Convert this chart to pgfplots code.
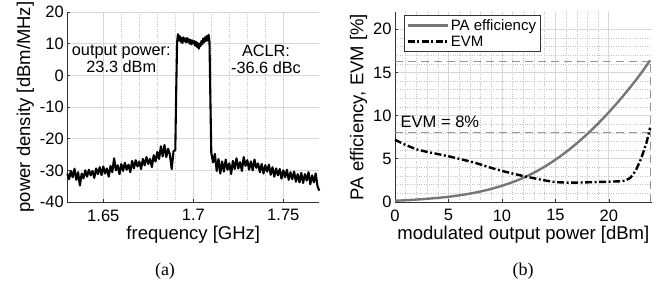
\documentclass[border=0pt]{standalone}
\usepackage{fontspec}
\setmainfont{Liberation Sans}
\newfontfamily\capfont{Liberation Serif}
\usepackage{pgfplots}
\pgfplotsset{compat=1.18}
\definecolor{pagray}{RGB}{118,118,118}
\definecolor{guide}{RGB}{150,150,150}
\definecolor{majgrid}{RGB}{215,215,215}
\definecolor{mingrid}{RGB}{195,195,195}
\pgfplotsset{
  mystyle/.style={
    scale only axis,
    axis x line*=bottom, axis y line*=left,
    axis line style={black!80, line width=0.8pt},
    tick align=inside,
    major tick length=3pt, minor tick length=0pt,
    tick style={black!80, line width=0.7pt},
    grid=both,
    major grid style={majgrid, line width=0.9pt},
    minor grid style={mingrid, dotted, line width=0.5pt},
    /pgf/number format/assume math mode=true,
    tick label style={font=\fontsize{16.5}{18}\selectfont},
    label style={font=\fontsize{18.5}{20}\selectfont},
    clip=false,
  }
}
\begin{document}
\begin{tikzpicture}[x=1pt,y=1pt]
\path[use as bounding box] (0,0) rectangle (656,282);
\begin{axis}[mystyle,
  at={(67.3pt,80pt)}, anchor=south west,
  width=252pt, height=190pt,
  xmin=1.63, xmax=1.77, ymin=-40, ymax=20,
  xtick={1.65,1.7,1.75}, ytick={-40,-30,...,20},
  minor x tick num=4,
  xlabel={frequency [GHz]},
  ylabel={power density [dBm/MHz]},
  xticklabel style={yshift=-4pt},
  xlabel style={yshift=2pt},
  ylabel style={yshift=-1pt},
]
\addplot[black, line width=2.1pt, line join=round] coordinates {
(1.630,-31.0) (1.631,-32.8) (1.632,-30.2) (1.633,-32.2) (1.634,-29.5) (1.635,-33.0)
(1.636,-30.6) (1.637,-34.8) (1.638,-31.0) (1.639,-32.5) (1.640,-30.0) (1.641,-32.0)
(1.642,-29.8) (1.643,-31.6) (1.644,-30.2) (1.645,-32.4) (1.646,-29.4) (1.647,-31.2)
(1.648,-29.0) (1.649,-31.5) (1.650,-28.8) (1.651,-31.0) (1.652,-29.4) (1.653,-32.0)
(1.654,-28.6) (1.655,-30.6) (1.656,-26.2) (1.657,-30.0) (1.658,-28.4) (1.659,-31.2)
(1.660,-28.0) (1.661,-30.2) (1.662,-27.6) (1.663,-29.8) (1.664,-28.2) (1.665,-30.6)
(1.666,-27.0) (1.667,-29.4) (1.668,-26.8) (1.669,-28.8) (1.670,-27.2) (1.671,-29.6)
(1.672,-26.4) (1.673,-28.4) (1.674,-25.8) (1.675,-28.0) (1.676,-26.4) (1.677,-29.0)
(1.678,-25.2) (1.679,-27.2) (1.680,-24.2) (1.681,-26.4) (1.682,-22.4) (1.683,-25.6)
(1.684,-22.0) (1.685,-25.8) (1.686,-23.2) (1.687,-25.0) (1.688,-29.6) (1.689,-24.0)
(1.690,-23.6) (1.6905,-5.0) (1.691,10.5)
(1.6915,13.0) (1.692,11.0) (1.6925,12.4) (1.693,10.6) (1.6935,11.8) (1.694,10.2)
(1.6945,12.0) (1.695,10.8) (1.6955,11.6) (1.696,10.4) (1.6965,11.8) (1.697,10.6)
(1.6975,11.4) (1.698,10.0) (1.6985,11.2) (1.699,9.8) (1.6995,11.0) (1.700,10.2)
(1.7005,10.8) (1.701,9.4) (1.7015,10.6) (1.702,9.0) (1.7025,10.2) (1.703,8.4)
(1.7035,10.0) (1.704,9.2) (1.7045,10.8) (1.705,9.8) (1.7055,11.6) (1.706,10.4)
(1.7065,12.0) (1.707,10.8) (1.7075,12.4) (1.708,11.0) (1.7085,12.8) (1.709,10.5)
(1.7095,-8.0) (1.710,-24.5)
(1.711,-27.5) (1.712,-24.8) (1.713,-30.2) (1.714,-26.4) (1.715,-31.0) (1.716,-27.2)
(1.717,-30.4) (1.718,-26.6) (1.719,-29.8) (1.720,-27.8) (1.721,-31.2) (1.722,-27.0)
(1.723,-29.6) (1.724,-26.2) (1.725,-29.4) (1.726,-27.4) (1.727,-30.2) (1.728,-25.8)
(1.729,-28.6) (1.730,-26.8) (1.731,-29.8) (1.732,-27.2) (1.733,-30.0) (1.734,-26.6)
(1.735,-29.2) (1.736,-27.8) (1.737,-30.6) (1.738,-28.0) (1.739,-31.0) (1.740,-28.4)
(1.741,-30.4) (1.742,-28.2) (1.743,-31.4) (1.744,-29.0) (1.745,-32.0) (1.746,-29.4)
(1.747,-31.6) (1.748,-29.6) (1.749,-32.6) (1.750,-30.0) (1.751,-32.2) (1.752,-29.8)
(1.753,-33.0) (1.754,-30.6) (1.755,-32.8) (1.756,-30.4) (1.757,-33.6) (1.758,-31.2)
(1.759,-33.8) (1.760,-30.8) (1.761,-34.0) (1.762,-31.2) (1.763,-33.2) (1.764,-30.6)
(1.765,-34.4) (1.766,-31.6) (1.767,-33.8) (1.768,-31.0) (1.769,-35.0) (1.770,-36.4)
};
\node[align=center, font=\fontsize{16.3}{16.8}\selectfont] at (axis cs:1.6600,5.1) {output power:\\23.3 dBm};
\node[align=center, font=\fontsize{16.3}{16.8}\selectfont] at (axis cs:1.7404,5.1) {ACLR:\\-36.6 dBc};
\end{axis}

\begin{axis}[mystyle,
  at={(395pt,80pt)}, anchor=south west,
  width=256.7pt, height=190pt,
  xmin=0, xmax=24, ymin=0, ymax=22,
  xtick={0,5,...,20}, ytick={0,5,...,20},
  minor x tick num=4, minor y tick num=4,
  xlabel={modulated output power [dBm]},
  ylabel={PA efficiency, EVM [\%]},
  xticklabel style={yshift=-4pt},
  xlabel style={yshift=2pt},
  ylabel style={yshift=-1pt},
  legend cell align=left,
  legend style={at={(0,1)}, anchor=north west, xshift=9pt, yshift=-3pt,
    draw=black!80, line width=0.7pt, fill=white,
    font=\fontsize{15}{17}\selectfont, inner sep=2pt, row sep=0pt},
  legend image code/.code={\draw[#1] (0pt,0pt) -- (40pt,0pt);},
]
\addplot[guide, line width=1pt, dash pattern=on 8pt off 5pt, forget plot] coordinates {(0,16.3) (24,16.3)};
\addplot[guide, line width=1pt, dash pattern=on 8pt off 5pt, forget plot] coordinates {(0,8) (24,8)};
\addplot[guide, line width=1pt, dash pattern=on 8pt off 5pt, forget plot] coordinates {(23.85,0) (23.85,16.3)};
\addplot[pagray, line width=2.4pt, smooth] coordinates {
(0,0.15) (1,0.2) (2,0.28) (3,0.37) (4,0.48) (5,0.6) (6,0.77) (7,0.97) (8,1.22)
(9,1.52) (10,1.88) (11,2.3) (12,2.8) (13,3.4) (14,4.1) (15,4.9) (16,5.8) (17,6.8)
(18,7.9) (19,9.1) (20,10.4) (21,11.8) (22,13.3) (23,14.9) (23.85,16.4)
};
\addlegendentry{PA efficiency}
\addplot[black, line width=2.4pt, dash pattern=on 7pt off 2.5pt on 2pt off 2.5pt] coordinates {
(0,7.2) (1,6.6) (2,6.1) (3,5.8) (4,5.55) (5,5.3) (6,5.0) (7,4.7) (8,4.35) (9,3.95)
(10,3.6) (11,3.3) (12,3.0) (13,2.75) (14,2.5) (15,2.3) (16,2.25) (17,2.25) (18,2.28)
(19,2.32) (20,2.35) (21,2.4) (21.5,2.45) (22,2.8) (22.5,3.6) (23,5.0) (23.5,6.8) (23.85,8.6)
};
\addlegendentry{EVM}
\node[anchor=base, font=\fontsize{16.5}{18}\selectfont] at (axis cs:4.2,8.6) {EVM = 8\%};
\end{axis}
\node[font=\capfont\fontsize{18}{20}\selectfont] at (165,11) {(a)};
\node[font=\capfont\fontsize{18}{20}\selectfont] at (523,11) {(b)};
\end{tikzpicture}
\end{document}
